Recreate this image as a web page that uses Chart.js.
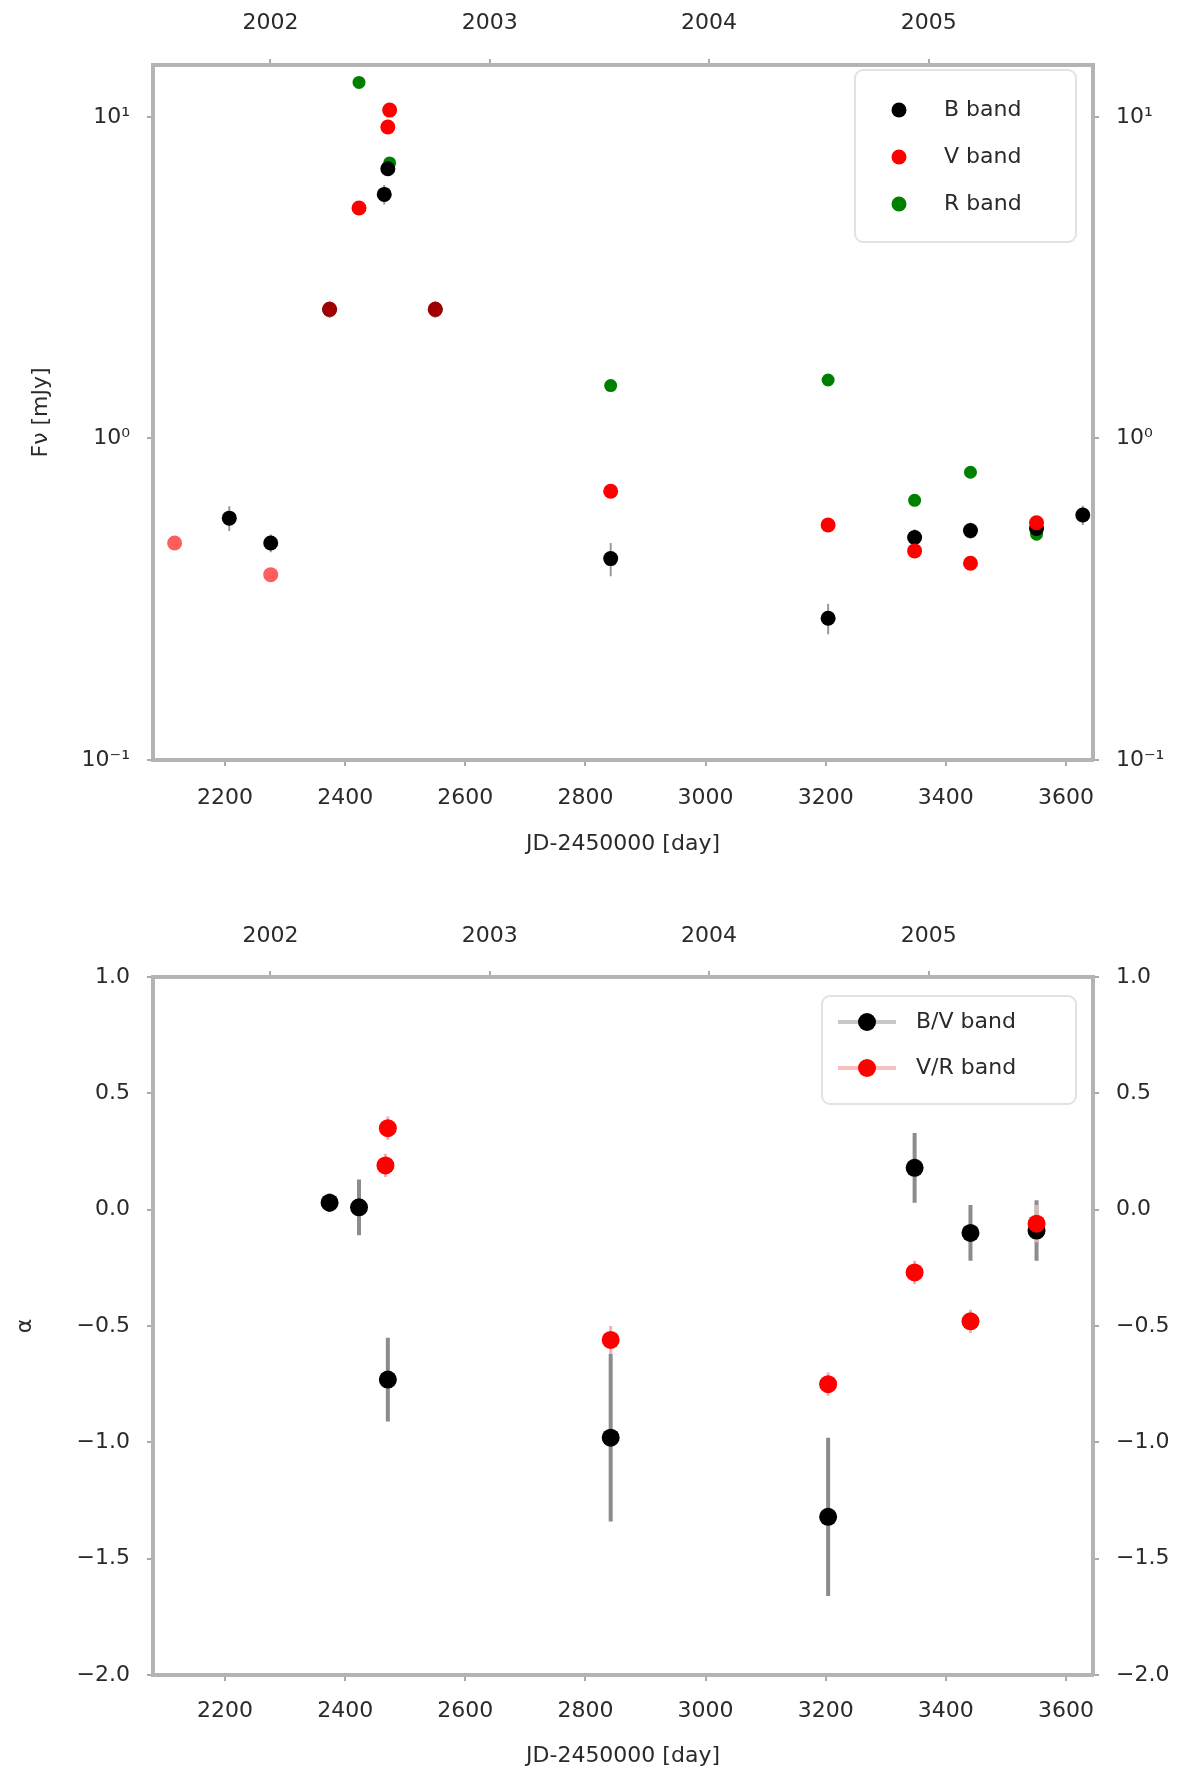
<!DOCTYPE html>
<html>
<head>
<meta charset="utf-8">
<script src="https://cdn.jsdelivr.net/npm/chart.js@4.4.0/dist/chart.umd.min.js"></script>
<style>
  body { margin: 0; background: #fff; }
  canvas { position: absolute; left: 0; }
  #flux { top: 0; }
  #alpha { top: 880px; }
</style>
</head>
<body>
<canvas id="flux" width="1200" height="880"></canvas>
<canvas id="alpha" width="1200" height="896"></canvas>
<script>
// time axis is JD - 2450000
const dayTicks = [2200, 2400, 2600, 2800, 3000, 3200, 3400, 3600];
const yearTicks = [2275.5, 2640.5, 3005.5, 3371.5];
const yearLabels = ["2002", "2003", "2004", "2005"];

// top panel: flux per band
const bTime = [2207, 2276, 2374, 2465, 2471, 2550, 2842, 3204, 3348, 3441, 3551, 3628];
const bFlux = [0.565, 0.473, 2.52, 5.74, 6.9, 2.52, 0.423, 0.276, 0.492, 0.517, 0.525, 0.578];
const bFluxErr = [0.05, 0.03, 0.15, 0.4, 0.3, 0.15, 0.05, 0.03, 0.03, 0.03, 0.03, 0.04];

const vTime = [2116, 2276, 2374, 2423, 2471, 2474, 2550, 2842, 3204, 3348, 3441, 3551];
const vFlux = [0.473, 0.377, 2.52, 5.21, 9.3, 10.5, 2.52, 0.685, 0.538, 0.447, 0.409, 0.547];

const rTime = [2423, 2474, 2842, 3204, 3348, 3441, 3551];
const rFlux = [12.8, 7.19, 1.46, 1.52, 0.642, 0.785, 0.504];

const fluxTicks = [0.1, 1, 10];
const fluxTickLabels = ["10\u207B\u00B9", "10\u2070", "10\u00B9"];

// bottom panel: spectral index
const bvTime = [2374, 2423, 2471, 2842, 3204, 3348, 3441, 3551];
const bvAlpha = [0.03, 0.01, -0.73, -0.98, -1.32, 0.18, -0.10, -0.09];
const bvErr = [0.04, 0.12, 0.18, 0.36, 0.34, 0.15, 0.12, 0.13];

const vrTime = [2471, 2467, 2842, 3204, 3348, 3441, 3551];
const vrAlpha = [0.35, 0.19, -0.56, -0.75, -0.27, -0.48, -0.06];
const vrErr = [0.05, 0.05, 0.06, 0.05, 0.05, 0.05, 0.08];

const alphaTicks = [1.0, 0.5, 0.0, -0.5, -1.0, -1.5, -2.0];

const FONT = "DejaVu Sans";
const TEXT = "#2a2a2a";

function points(xs, ys) {
    return xs.map((x, i) => ({ x, y: ys[i] }));
}

function errorSegments(xs, ys, errs) {
    const out = [];
    xs.forEach((x, i) => {
        out.push({ x, y: ys[i] - errs[i] });
        out.push({ x, y: ys[i] + errs[i] });
        out.push({ x, y: null });
    });
    return out;
}

// red points sitting right on top of black ones look darker, the earliest ones are faint
const vColors = vTime.map((t, i) => {
    const j = bTime.indexOf(t);
    if (j >= 0 && Math.abs(bFlux[j] - vFlux[i]) < 0.01) return "rgba(230,0,0,0.7)";
    if (i < 2) return "rgba(255,40,40,0.75)";
    return "#ff0000";
});

const legendBox = {
    id: "legendBox",
    afterDraw(chart, args, opts) {
        const ctx = chart.ctx;
        ctx.save();
        ctx.fillStyle = "rgba(255,255,255,0.85)";
        ctx.strokeStyle = "#e2e2e2";
        ctx.lineWidth = 2;
        ctx.beginPath();
        ctx.roundRect(opts.box[0], opts.box[1], opts.box[2], opts.box[3], 8);
        ctx.fill();
        ctx.stroke();

        const items = chart.data.datasets.filter(d => d.inLegend);
        items.forEach((d, i) => {
            const y = opts.firstY + i * opts.step;
            if (opts.withLine) {
                ctx.strokeStyle = d.lineTint;
                ctx.lineWidth = 4;
                ctx.beginPath();
                ctx.moveTo(opts.markerX - 29, y);
                ctx.lineTo(opts.markerX + 29, y);
                ctx.stroke();
            }
            ctx.fillStyle = d.legendColor;
            ctx.beginPath();
            ctx.arc(opts.markerX, y, opts.radius, 0, Math.PI * 2);
            ctx.fill();
            ctx.fillStyle = TEXT;
            ctx.font = "22px " + FONT;
            ctx.textBaseline = "middle";
            ctx.fillText(d.label, opts.textX, y);
        });
        ctx.restore();
    }
};

function fixTicks(values) {
    return axis => { axis.ticks = values.map(v => ({ value: v })); };
}

function sized(prop, size) {
    return axis => { axis[prop] = size; };
}

const tickFont = { family: FONT, size: 22 };
const frame = { color: "#b4b4b4", width: 4 };
const tickGrid = { drawOnChartArea: false, drawTicks: true, tickLength: 6, color: "#aaa", lineWidth: 2 };

function xAxes(bottomH, topH, padBottom, padTop, titlePad) {
    return {
        x: {
            type: "linear", position: "bottom", min: 2080, max: 3645,
            afterBuildTicks: fixTicks(dayTicks),
            afterFit: sized("height", bottomH),
            border: frame, grid: tickGrid,
            ticks: { font: tickFont, color: TEXT, padding: padBottom, maxRotation: 0, callback: v => String(v) },
            title: { display: true, text: "JD-2450000 [day]", font: tickFont, color: TEXT, padding: { top: 0, bottom: titlePad } }
        },
        x2: {
            type: "linear", position: "top", min: 2080, max: 3645,
            afterBuildTicks: fixTicks(yearTicks),
            afterFit: sized("height", topH),
            border: frame, grid: tickGrid,
            ticks: { font: tickFont, color: TEXT, padding: padTop, maxRotation: 0, callback: (v, i) => yearLabels[i] }
        }
    };
}

// ---- top panel ----
new Chart(document.getElementById("flux"), {
    type: "scatter",
    data: {
        datasets: [
            { label: "V band", inLegend: false, data: points(vTime, vFlux), backgroundColor: vColors, pointRadius: 7.5, borderWidth: 0, order: 1 },
            { label: "B band", inLegend: true, legendColor: "#000000", data: points(bTime, bFlux), backgroundColor: "#000000", pointRadius: 7.5, borderWidth: 0, order: 2 },
            { label: "V band", inLegend: true, legendColor: "#ff0000", data: [] },
            { label: "R band", inLegend: true, legendColor: "#008000", data: points(rTime, rFlux), backgroundColor: "#008000", pointRadius: 6.5, borderWidth: 0, order: 3 },
            { type: "line", data: errorSegments(bTime, bFlux, bFluxErr), borderColor: "#9a9a9a", borderWidth: 2, pointRadius: 0, spanGaps: false, order: 4 }
        ]
    },
    options: {
        responsive: false,
        animation: false,
        devicePixelRatio: 1,
        layout: { padding: 0 },
        plugins: {
            legend: { display: false },
            tooltip: { enabled: false },
            legendBox: { box: [855, 70, 221, 172], firstY: 110, step: 47, markerX: 899, textX: 944, radius: 7.5, withLine: false }
        },
        scales: {
            ...xAxes(120, 65, 19, 23, 23),
            y: {
                type: "logarithmic", position: "left", min: 0.1, max: 14.5,
                afterBuildTicks: fixTicks(fluxTicks),
                afterFit: sized("width", 153),
                border: frame, grid: tickGrid,
                ticks: { font: tickFont, color: TEXT, padding: 17, callback: v => fluxTickLabels[fluxTicks.indexOf(v)] },
                title: { display: true, text: "F\u03BD [mJy]", font: tickFont, color: TEXT, padding: { top: 28, bottom: 0 } }
            },
            y2: {
                type: "logarithmic", position: "right", min: 0.1, max: 14.5,
                afterBuildTicks: fixTicks(fluxTicks),
                afterFit: sized("width", 107),
                border: frame, grid: tickGrid,
                ticks: { font: tickFont, color: TEXT, padding: 17, callback: v => fluxTickLabels[fluxTicks.indexOf(v)] }
            }
        }
    },
    plugins: [legendBox]
});

// ---- bottom panel ----
const alphaLabel = v => v.toFixed(1).replace("-", "\u2212");

new Chart(document.getElementById("alpha"), {
    type: "scatter",
    data: {
        datasets: [
            { label: "V/R band", inLegend: false, data: points(vrTime, vrAlpha), backgroundColor: "#ff0000", pointRadius: 9, borderWidth: 0, order: 1 },
            { label: "B/V band", inLegend: true, legendColor: "#000000", lineTint: "#c8c8c8", data: points(bvTime, bvAlpha), backgroundColor: "#000000", pointRadius: 9, borderWidth: 0, order: 2 },
            { label: "V/R band", inLegend: true, legendColor: "#ff0000", lineTint: "#f6c0c0", data: [] },
            { type: "line", data: errorSegments(vrTime, vrAlpha, vrErr), borderColor: "#f3b0b0", borderWidth: 3, pointRadius: 0, spanGaps: false, order: 3 },
            { type: "line", data: errorSegments(bvTime, bvAlpha, bvErr), borderColor: "#8c8c8c", borderWidth: 4, pointRadius: 0, spanGaps: false, order: 4 }
        ]
    },
    options: {
        responsive: false,
        animation: false,
        devicePixelRatio: 1,
        layout: { padding: 0 },
        plugins: {
            legend: { display: false },
            tooltip: { enabled: false },
            legendBox: { box: [822, 116, 254, 108], firstY: 142, step: 46, markerX: 867, textX: 916, radius: 9, withLine: true }
        },
        scales: {
            ...xAxes(101, 97, 17, 22, 7),
            y: {
                type: "linear", position: "left", min: -2, max: 1,
                afterBuildTicks: fixTicks(alphaTicks),
                afterFit: sized("width", 153),
                border: frame, grid: tickGrid,
                ticks: { font: tickFont, color: TEXT, padding: 17, callback: alphaLabel },
                title: { display: true, text: "\u03B1", font: tickFont, color: TEXT, padding: { top: 12, bottom: 0 } }
            },
            y2: {
                type: "linear", position: "right", min: -2, max: 1,
                afterBuildTicks: fixTicks(alphaTicks),
                afterFit: sized("width", 107),
                border: frame, grid: tickGrid,
                ticks: { font: tickFont, color: TEXT, padding: 17, callback: alphaLabel }
            }
        }
    },
    plugins: [legendBox]
});
</script>
</body>
</html>
